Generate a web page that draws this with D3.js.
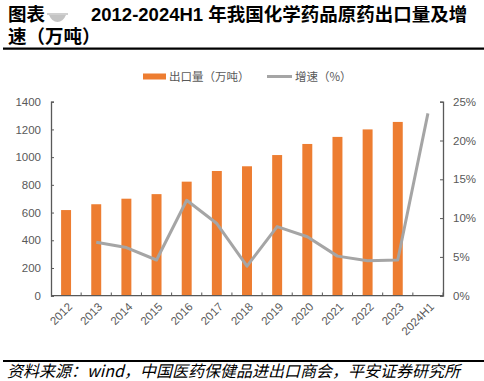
<!DOCTYPE html>
<html><head><meta charset="utf-8">
<script src="https://cdn.jsdelivr.net/npm/d3@7"></script>
<style>
body{margin:0;background:#fff;}
svg{display:block;}
</style></head>
<body>
<script>
const categories = ["2012","2013","2014","2015","2016","2017","2018","2019","2020","2021","2022","2023","2024H1"];
const exportVolume = [618, 660, 700, 733, 823, 900, 934, 1015, 1095, 1146, 1200, 1254, null];
const growthPct = [null, 6.9, 6.2, 4.6, 12.3, 9.3, 3.8, 8.9, 7.6, 5.1, 4.5, 4.6, 23.5];
const leftTicks = [0,200,400,600,800,1000,1200,1400];
const rightTicks = [0,5,10,15,20,25];
const titleLine1a = "图表";
const titleLine1b = "2012-2024H1 年我国化学药品原药出口量及增";
const titleLine2 = "速（万吨）";
const legendLabels = ["出口量（万吨）","增速（%）"];
const sourceText = "资料来源：wind，中国医药保健品进出口商会，平安证券研究所";

const W=484,H=381;
const svg=d3.select("body").append("svg").attr("width",W).attr("height",H);
const cjk="'Liberation Sans','Noto Sans CJK SC',sans-serif";

// title
const t=svg.append("text").attr("font-family",cjk).attr("font-weight","bold").attr("font-size",18.5).attr("fill","#000");
t.append("tspan").attr("x",8).attr("y",21).text(titleLine1a);
t.append("tspan").attr("x",91).attr("y",21).text(titleLine1b);
svg.append("text").attr("font-family",cjk).attr("font-weight","bold").attr("font-size",18.5)
  .attr("x",8).attr("y",43).text(titleLine2);
// grey artifact under title
svg.append("rect").attr("x",47).attr("y",13).attr("width",21).attr("height",2).attr("fill","#d0d0d0");
svg.append("path").attr("d","M49,15 L66,15 Q63,22 57.5,22 Q52,22 49,15 Z").attr("fill","#c4c4c4");
svg.append("line").attr("x1",3).attr("x2",484).attr("y1",48.7).attr("y2",48.7).attr("stroke","#000").attr("stroke-width",2.2);

// scales
const x=d3.scaleBand().domain(categories).range([51,443]).paddingInner(0.67).paddingOuter(0.335);
const yL=d3.scaleLinear().domain([0,1400]).range([295.7,101.7]);
const yR=d3.scaleLinear().domain([0,25]).range([295.7,101.7]);
const xb=d3.scalePoint().domain(categories).range([51,443]).padding(0.5);

// bars
svg.append("g").selectAll("rect").data(categories.map((c,i)=>({c,v:exportVolume[i]})).filter(d=>d.v!=null))
 .join("rect").attr("x",d=>x(d.c)).attr("width",x.bandwidth()).attr("y",d=>yL(d.v)).attr("height",d=>yL(0)-yL(d.v))
 .attr("fill","#ED7D31");

// line
const line=d3.line().defined(d=>d.v!=null).x(d=>xb(d.c)).y(d=>yR(d.v));
svg.append("path").datum(categories.map((c,i)=>({c,v:growthPct[i]})))
 .attr("d",line).attr("fill","none").attr("stroke","#A5A5A5").attr("stroke-width",3).attr("stroke-linejoin","round");

const axisColor="#595959";
// left axis
const gl=svg.append("g").attr("transform","translate(51,0)")
 .call(d3.axisLeft(yL).tickValues(leftTicks).tickSize(-3).tickPadding(10).tickFormat(d=>String(d)));
// right axis
const gr=svg.append("g").attr("transform","translate(443,0)")
 .call(d3.axisRight(yR).tickValues(rightTicks).tickSize(-3).tickPadding(10).tickFormat(d=>d+"%"));
// bottom axis
const gb=svg.append("g").attr("transform","translate(0,295.7)")
 .call(d3.axisBottom(x).tickSize(0).tickPadding(0));
[gl,gr,gb].forEach(g=>{
  g.select(".domain").attr("stroke",axisColor).attr("stroke-width",1.3);
  g.selectAll(".tick line").attr("stroke",axisColor);
  g.selectAll("text").attr("font-family","'Liberation Sans',Arial,sans-serif").attr("font-size",11.5).attr("fill","#595959");
});
gb.select(".domain").attr("d","M51,0H443");
gb.selectAll(".tick text").attr("text-anchor","end").attr("dy","0.35em")
  .attr("transform","translate(4,9) rotate(-45)");
// bottom boundary ticks
const bounds=d3.range(1,categories.length+1).map(i=>x.range()[0]+i*x.step());
svg.append("g").selectAll("line").data(bounds).join("line")
 .attr("x1",d=>d).attr("x2",d=>d).attr("y1",295.7).attr("y2",292.5).attr("stroke",axisColor);

// legend
const lg=svg.append("g").attr("font-family","'Noto Sans CJK SC',sans-serif").attr("font-size",11.5).attr("fill","#595959");
lg.append("rect").attr("x",143).attr("y",73.5).attr("width",23).attr("height",6).attr("fill","#ED7D31");
lg.append("text").attr("x",169).attr("y",80.5).text(legendLabels[0]);
lg.append("line").attr("x1",267).attr("x2",292).attr("y1",76.5).attr("y2",76.5).attr("stroke","#A5A5A5").attr("stroke-width",3);
lg.append("text").attr("x",295).attr("y",80.5).text(legendLabels[1]);

// source
svg.append("line").attr("x1",3).attr("x2",484).attr("y1",361).attr("y2",361).attr("stroke","#000").attr("stroke-width",2.2);
svg.append("text").attr("x",7).attr("y",377).attr("font-family","'Noto Sans CJK SC',sans-serif").attr("font-style","italic")
 .attr("font-size",16).attr("fill","#000").text(sourceText);
</script>
</body></html>
